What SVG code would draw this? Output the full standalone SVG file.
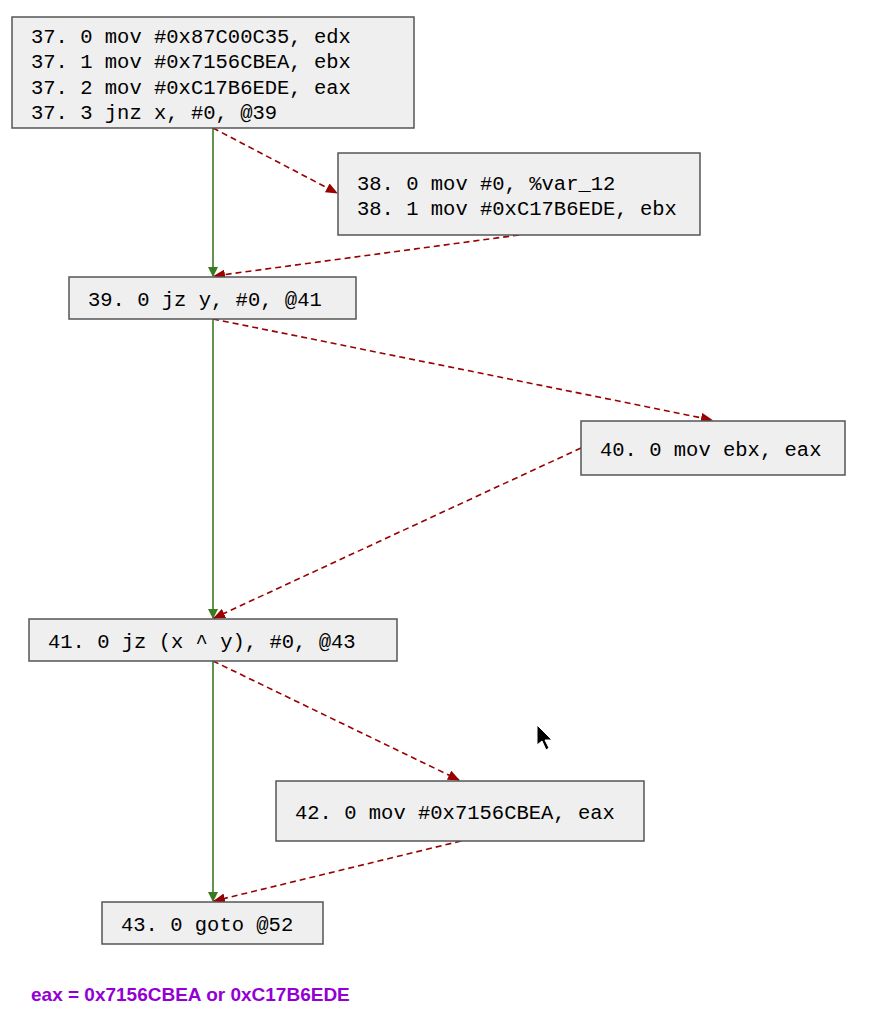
<svg xmlns="http://www.w3.org/2000/svg" width="875" height="1024" viewBox="0 0 875 1024">
<defs>
<marker id="ag" markerWidth="10" markerHeight="10" refX="9" refY="5" orient="auto" markerUnits="userSpaceOnUse" viewBox="0 0 10 10"><path d="M0,0 L10,5 L0,10 z" fill="#3a7a20"/></marker>
<marker id="ar" markerWidth="12" markerHeight="10" refX="11" refY="5" orient="auto" markerUnits="userSpaceOnUse" viewBox="0 0 12 10"><path d="M0,0 L12,5 L0,10 z" fill="#990000"/></marker>
</defs>
<style>
.b{fill:#efefef;stroke:#555;stroke-width:1.5}
.t{font-family:"Liberation Mono","DejaVu Sans Mono",monospace;font-size:20.5px;fill:#000}
.g{stroke:#3a7a20;stroke-width:1.6;fill:none;marker-end:url(#ag)}
.r{stroke:#990000;stroke-width:1.6;fill:none;stroke-dasharray:6,4;marker-end:url(#ar)}
</style>
<rect width="875" height="1024" fill="#fff"/>
<g id="connectors">
<line class="g" x1="213" y1="128" x2="213" y2="276"/>
<line class="g" x1="213" y1="319" x2="213" y2="618"/>
<line class="g" x1="213" y1="661" x2="213" y2="901"/>
<line class="r" x1="213" y1="128" x2="337" y2="193"/>
<line class="r" x1="519" y1="235" x2="214" y2="276"/>
<line class="r" x1="213" y1="319" x2="712" y2="420"/>
<line class="r" x1="581" y1="448" x2="214" y2="618"/>
<line class="r" x1="213" y1="661" x2="459" y2="780"/>
<line class="r" x1="461" y1="841" x2="214" y2="901"/>
</g>
<g id="n37"><rect class="b" x="12" y="17" width="402" height="111"/>
<text class="t" x="31" y="43">37. 0 mov #0x87C00C35, edx</text>
<text class="t" x="31" y="68">37. 1 mov #0x7156CBEA, ebx</text>
<text class="t" x="31" y="94">37. 2 mov #0xC17B6EDE, eax</text>
<text class="t" x="31" y="119">37. 3 jnz x, #0, @39</text></g>
<g id="n38"><rect class="b" x="338" y="153" width="362" height="82"/>
<text class="t" x="357" y="190">38. 0 mov #0, %var_12</text>
<text class="t" x="357" y="215">38. 1 mov #0xC17B6EDE, ebx</text></g>
<g id="n39"><rect class="b" x="69" y="277" width="287" height="42"/>
<text class="t" x="88" y="306">39. 0 jz y, #0, @41</text></g>
<g id="n40"><rect class="b" x="581" y="421" width="264" height="54"/>
<text class="t" x="600" y="456">40. 0 mov ebx, eax</text></g>
<g id="n41"><rect class="b" x="29" y="619" width="368" height="42"/>
<text class="t" x="48" y="648">41. 0 jz (x ^ y), #0, @43</text></g>
<g id="n42"><rect class="b" x="276" y="781" width="368" height="60"/>
<text class="t" x="295" y="819">42. 0 mov #0x7156CBEA, eax</text></g>
<g id="n43"><rect class="b" x="102" y="902" width="221" height="42"/>
<text class="t" x="121" y="931">43. 0 goto @52</text></g>
<path d="M537,725 L537,745 L542,741 L546,750 L549,748 L545,740 L552,740 Z" fill="#000" stroke="#fff" stroke-width="1"/>
<text x="31" y="1001" font-family="Liberation Sans,Arial,sans-serif" font-size="19" font-weight="bold" fill="#9400d3">eax = 0x7156CBEA or 0xC17B6EDE</text>
</svg>
